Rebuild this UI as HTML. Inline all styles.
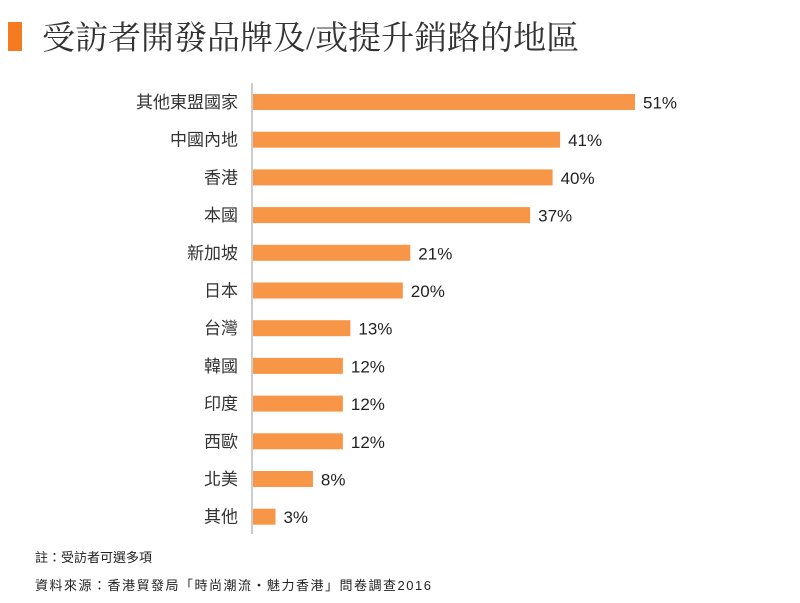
<!DOCTYPE html>
<html><head><meta charset="utf-8">
<style>
body{margin:0;background:#fff;width:800px;height:603px;overflow:hidden;font-family:"Liberation Sans","Noto Sans CJK TC",sans-serif;}
.title{position:absolute;left:42px;top:12px;font-family:"Liberation Serif","Noto Serif CJK SC",serif;font-size:33px;color:#333;white-space:nowrap;}
.mark{position:absolute;left:8px;top:22px;width:14px;height:29px;background:#f47b20;}
.note{position:absolute;left:35px;font-size:13px;color:#222;white-space:nowrap;}
</style></head><body>
<div class="mark"></div>
<div class="title">受訪者開發品牌及/或提升銷路的地區</div>
<svg id="chart" width="800" height="603" style="position:absolute;left:0;top:0"></svg>
<div class="note" style="top:547px">註：受訪者可選多項</div>
<div class="note" style="top:575px;letter-spacing:1.5px">資料來源：香港貿發局「時尚潮流・魅力香港」問卷調查2016</div>
<script>
const categories=["其他東盟國家","中國內地","香港","本國","新加坡","日本","台灣","韓國","印度","西歐","北美","其他"];
const values=[51,41,40,37,21,20,13,12,12,12,8,3];
const svg=document.getElementById('chart');
const NS='http://www.w3.org/2000/svg';
const x0=253, pxPer=7.49, y0=102, step=37.7, bh=16;
const xs=v=>x0+v*pxPer;
const yc=i=>y0+i*step;
const axis=document.createElementNS(NS,'line');


axis.setAttribute('x1',252);axis.setAttribute('x2',252);axis.setAttribute('y1',83);axis.setAttribute('y2',534);
axis.setAttribute('stroke','#999');axis.setAttribute('stroke-width','1');
svg.appendChild(axis);
categories.forEach((c,i)=>{
  const y=yc(i);
  const r=document.createElementNS(NS,'rect');
  
  
  r.setAttribute('x',x0);r.setAttribute('y',y-bh/2);
  r.setAttribute('width',xs(values[i])-x0);r.setAttribute('height',bh);
  r.setAttribute('fill','#f79646');
  svg.appendChild(r);
  const t=document.createElementNS(NS,'text');
  
  
  t.setAttribute('x',238);t.setAttribute('y',y+6);
  t.setAttribute('text-anchor','end');t.setAttribute('font-size','17');t.setAttribute('fill','#333');
  t.textContent=c;svg.appendChild(t);
  const v=document.createElementNS(NS,'text');
  
  
  v.setAttribute('x',xs(values[i])+8);v.setAttribute('y',y+6.5);
  v.setAttribute('font-size','17');v.setAttribute('fill','#222');
  v.textContent=values[i]+'%';svg.appendChild(v);
});
</script>
</body></html>
